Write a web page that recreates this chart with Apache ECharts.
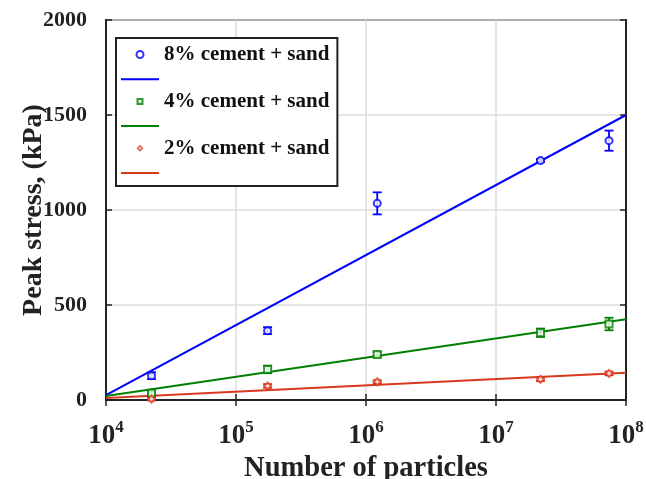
<!DOCTYPE html>
<html>
<head>
<meta charset="utf-8">
<script src="https://cdn.jsdelivr.net/npm/echarts@6/dist/echarts.min.js"></script>
<style>html,body{margin:0;padding:0;background:#fff}#c{width:646px;height:479px}</style>
</head>
<body>
<div id="c"></div>
<script>
// ---- data ----
const particles = [2.24e4, 1.75e5, 1.22e6, 2.2e7, 7.4e7];
const stress8 = [128, 365, 1035, 1260, 1365];
const err8 = [18, 18, 58, 8, 53];
const stress4 = [35, 161, 240, 354, 400];
const err4 = [8, 20, 12, 22, 33];
const stress2 = [5, 74, 96, 109, 140];
const err2 = [8, 10, 8, 10, 10];
const fitX = [1e4, 1e8];
const fit8 = [26, 1500];
const fit4 = [21, 425];
const fit2 = [10, 144];
const names = ['8% cement + sand', '4% cement + sand', '2% cement + sand'];
const fitNames = ['8% fit', '4% fit', '2% fit'];

const colors = ['#0000ff', '#008000', '#d9381e'];
const symbols = ['emptyCircle', 'emptyRect', 'emptyDiamond'];
const legendIcons = [
  'emptyCircle',
  'path://M0,0h10v10h-10zM3,3v4h4v-4z',
  'path://M5,0L10,5L5,10L0,5zM5,3.2L3.2,5L5,6.8L6.8,5z'
];
const lineIcon = 'path://M0,0h38v2h-38z';
const FONT = "'Liberation Serif', 'Times New Roman', serif";

function pts(ys) { return particles.map((x, i) => [x, ys[i]]); }
function errPts(ys, es) { return particles.map((x, i) => [x, ys[i], es[i]]); }
function fitPts(ys) { return fitX.map((x, i) => [x, ys[i]]); }

function errSeries(ys, es, color) {
  return {
    type: 'custom',
    data: errPts(ys, es),
    encode: { x: 0, y: 1 },
    z: 3,
    silent: true,
    renderItem: function (params, api) {
      const x = api.value(0), y = api.value(1), e = api.value(2);
      const t = api.coord([x, y + e]);
      const b = api.coord([x, y - e]);
      const hw = 4.5;
      const st = { stroke: color, lineWidth: 1.8, fill: null };
      return {
        type: 'group',
        children: [
          { type: 'line', shape: { x1: t[0], y1: t[1], x2: b[0], y2: b[1] }, style: st },
          { type: 'line', shape: { x1: t[0] - hw, y1: t[1], x2: t[0] + hw, y2: t[1] }, style: st },
          { type: 'line', shape: { x1: b[0] - hw, y1: b[1], x2: b[0] + hw, y2: b[1] }, style: st }
        ]
      };
    }
  };
}

const series = [];
const legendData = [];
[[stress8, err8, fit8], [stress4, err4, fit4], [stress2, err2, fit2]].forEach((d, k) => {
  series.push({
    name: fitNames[k], type: 'line', data: fitPts(d[2]), symbol: 'none', showSymbol: false,
    lineStyle: { color: colors[k], width: 2 }, itemStyle: { color: colors[k] }, z: 2, silent: true
  });
  series.push(errSeries(d[0], d[1], colors[k]));
  series.push({
    name: names[k], type: 'scatter', data: pts(d[0]), symbol: symbols[k], symbolSize: 7,
    itemStyle: { color: colors[k], borderColor: colors[k], borderWidth: 2 }, z: 4
  });
  legendData.push({ name: names[k], icon: legendIcons[k], itemStyle: { color: colors[k], borderWidth: 0 } });
  legendData.push({ name: fitNames[k], icon: lineIcon, itemStyle: { color: colors[k], borderWidth: 0 } });
});

const chart = echarts.init(document.getElementById('c'), null, { renderer: 'canvas' });
const tickStyle = { show: true, inside: true, length: 6, lineStyle: { color: '#222', width: 1.5 } };
chart.setOption({
  backgroundColor: '#fff',
  animation: false,
  grid: { left: 106, right: 20, top: 20, bottom: 79, outerBoundsMode: 'none', containLabel: false,
          show: true, borderColor: '#222', borderWidth: 2, backgroundColor: 'transparent' },
  legend: {
    data: legendData,
    orient: 'vertical',
    left: 116, top: 38,
    itemWidth: 38, itemHeight: 7, itemGap: 10.7,
    padding: [6, 8, 12, 5],
    backgroundColor: '#fff',
    borderColor: '#222', borderWidth: 2, borderRadius: 0,
    selectedMode: false,
    symbolKeepAspect: true,
    formatter: function (n) { return names.indexOf(n) >= 0 ? n : ''; },
    textStyle: { fontFamily: FONT, fontWeight: 'bold', fontSize: 21, color: '#111' }
  },
  xAxis: [{
    type: 'log', logBase: 10, min: 1e4, max: 1e8, interval: 1,
    name: 'Number of particles', nameLocation: 'middle', nameGap: 54, nameMoveOverlap: false,
    nameTextStyle: { fontFamily: FONT, fontWeight: 'bold', fontSize: 28.5, color: '#222', verticalAlign: 'top' },
    axisLine: { show: true, lineStyle: { color: '#222', width: 2 } },
    axisTick: tickStyle,
    minorTick: { show: false },
    splitLine: { show: true, lineStyle: { color: '#dcdcdc', width: 1.5 } },
    axisLabel: {
      margin: 19,
      formatter: function (v) { return '{b|10}{s|' + Math.round(Math.log10(v)) + '}'; },
      rich: {
        b: { fontFamily: FONT, fontWeight: 'bold', fontSize: 27, color: '#222', verticalAlign: 'bottom' },
        s: { fontFamily: FONT, fontWeight: 'bold', fontSize: 17, color: '#222', verticalAlign: 'top', padding: [0, 0, 14, 0] }
      }
    }
  }, {
    type: 'log', logBase: 10, min: 1e4, max: 1e8, interval: 1, position: 'top',
    axisLine: { show: true, lineStyle: { color: '#222', width: 2 } },
    axisTick: tickStyle, axisLabel: { show: false }, splitLine: { show: false }
  }],
  yAxis: [{
    type: 'value', min: 0, max: 2000, interval: 500,
    name: 'Peak stress, (kPa)', nameLocation: 'middle', nameGap: 58, nameMoveOverlap: false,
    nameTextStyle: { fontFamily: FONT, fontWeight: 'bold', fontSize: 28, color: '#222' },
    axisLine: { show: true, lineStyle: { color: '#222', width: 2 } },
    axisTick: tickStyle,
    splitLine: { show: true, lineStyle: { color: '#dcdcdc', width: 1.5 } },
    axisLabel: { margin: 19, fontFamily: FONT, fontWeight: 'bold', fontSize: 22, color: '#222',
                 formatter: function (v) { return String(v); } }
  }, {
    type: 'value', min: 0, max: 2000, interval: 500, position: 'right',
    axisLine: { show: true, lineStyle: { color: '#222', width: 2 } },
    axisTick: tickStyle, axisLabel: { show: false }, splitLine: { show: false }
  }],
  series: series
});
</script>
</body>
</html>
